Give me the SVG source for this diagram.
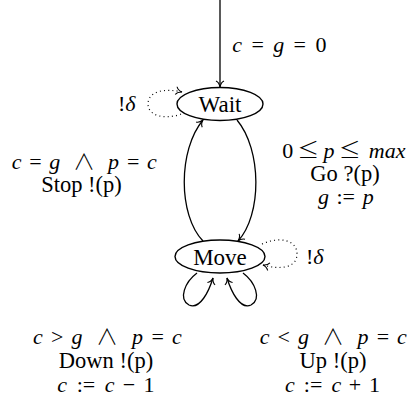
<svg xmlns="http://www.w3.org/2000/svg" width="413" height="405" viewBox="0 0 413 405">
<style>
.m{text-anchor:middle}
.i{font-style:italic}
.st{fill:none;stroke:#000;stroke-width:1.4}
.ed{fill:none;stroke:#000;stroke-width:1.3}
.dot{fill:none;stroke:#000;stroke-width:1.2;stroke-dasharray:1 3.2}
</style>
<defs>
<marker id="a" markerUnits="userSpaceOnUse" markerWidth="14" markerHeight="14" viewBox="-8 -7 10 14" refX="0" refY="0" orient="auto" overflow="visible">
<path d="M-6,-4 C-5,-1.8 -2,-0.4 0,0 C-2,0.4 -5,1.8 -6,4" fill="none" stroke="#000" stroke-width="1.1"/>
</marker>
</defs>
<rect width="413" height="405" fill="#fff"/>
<g id="connectors">
<path class="ed" d="M220 0 L220 87" marker-end="url(#a)"/>
<path class="ed" d="M203 241 C178 215 178 150 203 120" marker-end="url(#a)"/>
<path class="ed" d="M237 120 C262 150 262 215 238 241" marker-end="url(#a)"/>
<path class="ed" d="M197 273 C185 282 178 299 189 305 C200 310 209 291 213 278" marker-end="url(#a)"/>
<path class="ed" d="M243 273 C255 282 262 299 251 305 C240 310 231 291 227 278" marker-end="url(#a)"/>
<path class="dot" d="M181 114 C165 120 148 116 148 104 C148 91 165 88 182 92" marker-end="url(#a)"/>
<path class="dot" d="M262 244 C280 236 297 240 297 254 C297 268 280 270 263 265" marker-end="url(#a)"/>
</g>
<g id="labels" font-family="Liberation Serif" font-size="22" fill="#000">
<text font-family="Liberation Serif"><tspan class="m i" x="237.1" y="52">c</tspan><tspan class="m" x="257.7" y="52">=</tspan><tspan class="m i" x="278.7" y="52">g</tspan><tspan class="m" x="299.8" y="52">=</tspan><tspan class="m" x="321.1" y="52">0</tspan></text>
<text font-family="Liberation Serif" x="118" y="111">!<tspan class="i">δ</tspan></text>
<text font-family="Liberation Serif" x="306" y="264">!<tspan class="i">δ</tspan></text>
<text font-family="Liberation Serif"><tspan class="m i" x="16.6" y="169">c</tspan><tspan class="m" x="35.5" y="169">=</tspan><tspan class="m i" x="54.8" y="169">g</tspan><tspan class="m" font-family="Noto Sans CJK JP" font-weight="300" x="84" y="169">∧</tspan><tspan class="m i" x="113.6" y="169">p</tspan><tspan class="m" x="133.2" y="169">=</tspan><tspan class="m i" x="152" y="169">c</tspan></text>
<text font-family="Liberation Serif" font-size="22.5" class="m" x="81.5" y="192">Stop !(p)</text>
<text font-family="Liberation Serif"><tspan class="m" x="287.7" y="158">0</tspan><tspan class="m" font-family="Noto Sans CJK JP" font-weight="300" x="308.3" y="158">≤</tspan><tspan class="m i" x="329" y="158">p</tspan><tspan class="m" font-family="Noto Sans CJK JP" font-weight="300" x="349.8" y="158">≤</tspan><tspan class="m i" x="387.1" y="158">max</tspan></text>
<text font-family="Liberation Serif" font-size="22.5" class="m" x="345" y="181">Go ?(p)</text>
<text font-family="Liberation Serif"><tspan class="m i" x="323.4" y="204">g</tspan><tspan class="m" x="345.7" y="204">:=</tspan><tspan class="m i" x="368.3" y="204">p</tspan></text>
<text font-family="Liberation Serif"><tspan class="m i" x="37.8" y="344">c</tspan><tspan class="m" x="57.2" y="344">&gt;</tspan><tspan class="m i" x="77" y="344">g</tspan><tspan class="m" font-family="Noto Sans CJK JP" font-weight="300" x="107" y="344">∧</tspan><tspan class="m i" x="137.4" y="344">p</tspan><tspan class="m" x="157.6" y="344">=</tspan><tspan class="m i" x="176.9" y="344">c</tspan></text>
<text font-family="Liberation Serif" font-size="22.5" class="m" x="106" y="368">Down !(p)</text>
<text font-family="Liberation Serif"><tspan class="m i" x="62.1" y="392">c</tspan><tspan class="m" x="85.9" y="392">:=</tspan><tspan class="m i" x="109.7" y="392">c</tspan><tspan class="m" x="129" y="392">−</tspan><tspan class="m" x="149.1" y="392">1</tspan></text>
<text font-family="Liberation Serif"><tspan class="m i" x="264.7" y="344">c</tspan><tspan class="m" x="283.8" y="344">&lt;</tspan><tspan class="m i" x="303.4" y="344">g</tspan><tspan class="m" font-family="Noto Sans CJK JP" font-weight="300" x="333" y="344">∧</tspan><tspan class="m i" x="363" y="344">p</tspan><tspan class="m" x="382.9" y="344">=</tspan><tspan class="m i" x="402" y="344">c</tspan></text>
<text font-family="Liberation Serif" font-size="22.5" class="m" x="333" y="368">Up !(p)</text>
<text font-family="Liberation Serif"><tspan class="m i" x="289.9" y="392">c</tspan><tspan class="m" x="313.1" y="392">:=</tspan><tspan class="m i" x="336.3" y="392">c</tspan><tspan class="m" x="355" y="392">+</tspan><tspan class="m" x="374.5" y="392">1</tspan></text>
</g>
<g id="wait">
<ellipse class="st" cx="220" cy="104" rx="43" ry="16.5"/>
<text font-family="Liberation Serif" font-size="23" text-anchor="middle" x="220" y="111.5">Wait</text>
</g>
<g id="move">
<ellipse class="st" cx="220" cy="256.5" rx="45" ry="16.5"/>
<text font-family="Liberation Serif" font-size="23" text-anchor="middle" x="220" y="264.5">Move</text>
</g>
</svg>
